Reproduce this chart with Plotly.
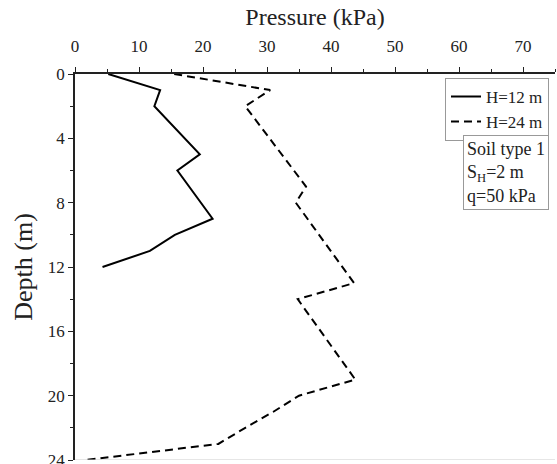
import plotly.graph_objects as go

depth_12 = [0, 1, 2, 5, 6, 9, 10, 11, 12]
pressure_12 = [5.2, 13.3, 12.4, 19.5, 16.0, 21.5, 15.6, 11.7, 4.3]

depth_24 = [0, 1, 2, 7, 8, 13, 14, 19, 20, 21, 22, 23, 24]
pressure_24 = [15.5, 30.5, 26.6, 36.1, 34.5, 43.6, 34.8, 43.8, 35.0, 31.0, 26.6, 22.4, 1.7]

x_ticks = [0, 10, 20, 30, 40, 50, 60, 70]
y_ticks = [0, 4, 8, 12, 16, 20, 24]

FONT = "Liberation Serif"

fig = go.Figure()
fig.add_trace(go.Scatter(x=pressure_12, y=depth_12, mode="lines", name="H=12 m",
                         line=dict(color="black", width=2)))
fig.add_trace(go.Scatter(x=pressure_24, y=depth_24, mode="lines", name="H=24 m",
                         line=dict(color="black", width=2, dash="8px,5px")))

fig.update_layout(
    width=557, height=464,
    margin=dict(l=75, r=2, t=74, b=4),
    paper_bgcolor="white", plot_bgcolor="white",
    font=dict(family=FONT, size=17, color="#222"),
    xaxis=dict(side="top", range=[0, 75], tickvals=x_ticks, showgrid=False, zeroline=False,
               automargin=False,
               showline=True, linecolor="#222", linewidth=1.5,
               ticks="outside", ticklen=5, tickwidth=1.2, tickcolor="#222",
               ticklabelstandoff=8,
               minor=dict(dtick=5, ticks="outside", ticklen=3, tickcolor="#222", tickwidth=1),
               title=dict(text="Pressure (kPa)", font=dict(size=24, family=FONT), standoff=5),
               tickfont=dict(size=17, family=FONT)),
    yaxis=dict(range=[24, 0], tickvals=y_ticks, showgrid=False, zeroline=False,
               automargin=False,
               showline=True, linecolor="#222", linewidth=1.5,
               ticks="outside", ticklen=5, tickwidth=1.2, tickcolor="#222",
               ticklabeloverflow="allow",
               minor=dict(dtick=2, ticks="outside", ticklen=3, tickcolor="#222", tickwidth=1),
               title=dict(text="Depth (m)", font=dict(size=26, family=FONT), standoff=8),
               tickfont=dict(size=17, family=FONT)),
    legend=dict(x=0.9875, y=0.99, xanchor="right", yanchor="top",
                bordercolor="#999", borderwidth=1, bgcolor="white",
                font=dict(size=17, family=FONT, color="#222"),
                tracegroupgap=0, itemwidth=30),
    showlegend=True,
)

fig.add_annotation(xref="paper", yref="paper", x=0.9875, y=0.842, xanchor="right", yanchor="top",
                   text="Soil type 1<br>S<sub>H</sub>=2 m<br>q=50 kPa", showarrow=False,
                   align="left", bordercolor="#999", borderwidth=1, borderpad=3,
                   bgcolor="white", font=dict(size=18, family=FONT, color="#222"))

fig.add_shape(type="line", xref="paper", yref="y", x0=0, x1=1, y0=24, y1=24,
              line=dict(color="#ccc", width=1))

fig.write_html("out.html")
